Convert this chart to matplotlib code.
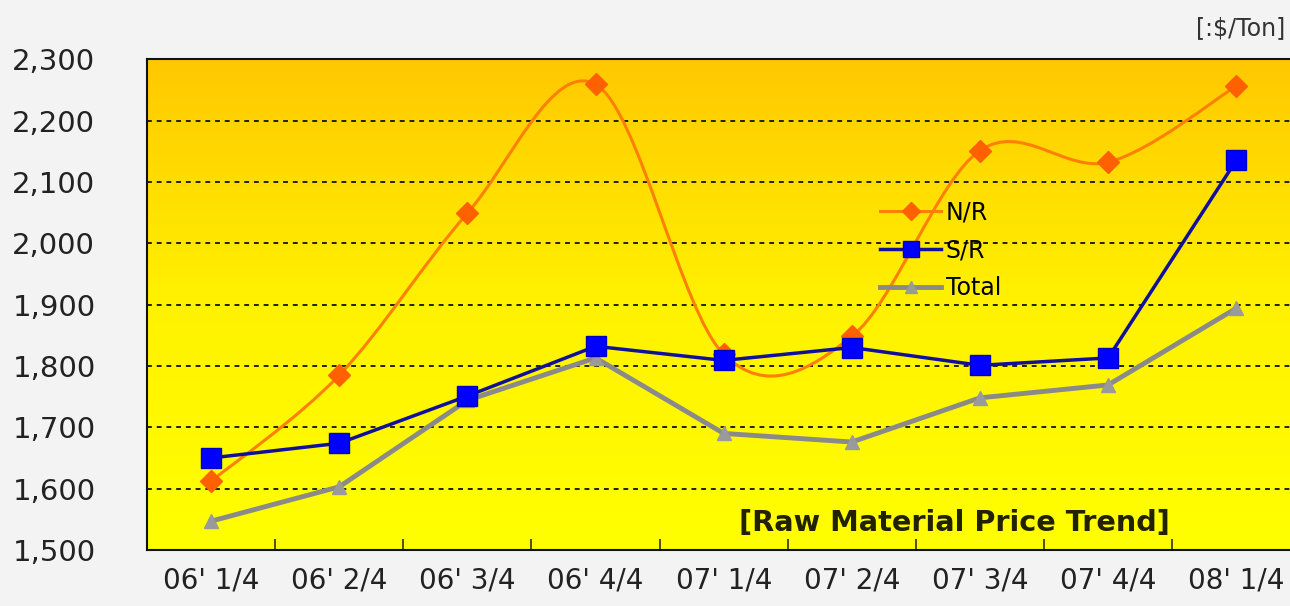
import matplotlib
matplotlib.use("Agg")
import matplotlib.pyplot as plt
import numpy as np
from matplotlib.path import Path
from matplotlib.patches import PathPatch
from matplotlib.lines import Line2D
from matplotlib.colors import LinearSegmentedColormap
from matplotlib.ticker import FuncFormatter, FixedLocator

# 数据
quarters = ["06' 1/4", "06' 2/4", "06' 3/4", "06' 4/4", "07' 1/4",
            "07' 2/4", "07' 3/4", "07' 4/4", "08' 1/4"]
nr_price = [1612, 1785, 2049, 2259, 1819, 1848, 2151, 2132, 2256]
sr_price = [1650, 1674, 1751, 1832, 1809, 1830, 1801, 1813, 2135]
total_price = [1547, 1603, 1744, 1813, 1690, 1676, 1748, 1769, 1894]
y_ticks = [1500, 1600, 1700, 1800, 1900, 2000, 2100, 2200, 2300]


def smooth_path(xs, ys):
    """Catmull-Rom 曲线转为 Bezier 路径 (类似 Excel 平滑线)"""
    pts = np.column_stack([xs, ys]).astype(float)
    n = len(pts)
    verts = [pts[0]]
    codes = [Path.MOVETO]
    for i in range(n - 1):
        p0 = pts[i - 1] if i > 0 else pts[i]
        p1 = pts[i]
        p2 = pts[i + 1]
        p3 = pts[i + 2] if i + 2 < n else pts[i + 1]
        c1 = p1 + (p2 - p0) / 6.0
        c2 = p2 - (p3 - p1) / 6.0
        verts += [c1, c2, p2]
        codes += [Path.CURVE4] * 3
    return Path(verts, codes)


fig = plt.figure(figsize=(12.9, 6.06), dpi=100)
fig.patch.set_facecolor('#f3f3f3')
ax = fig.add_axes([0.114, 0.0924, 0.894, 0.810])

x = np.arange(len(quarters))

# 背景渐变
cmap = LinearSegmentedColormap.from_list('bg', ['#ffff00', '#fff200', '#ffc800'])
grad = np.linspace(0, 1, 256).reshape(-1, 1)
ax.imshow(grad, extent=[-0.5, len(quarters) - 0.5, 1500, 2300], origin='lower',
          aspect='auto', cmap=cmap, zorder=0)

# 网格线
for v in y_ticks[1:-1]:
    ax.axhline(v, color='#222200', linestyle=(0, (2.5, 2.5)), linewidth=1.4, zorder=1)

# N/R 平滑线
ax.add_patch(PathPatch(smooth_path(x, nr_price), fill=False, edgecolor='#ff7f00',
                       linewidth=2.2, zorder=3))
ax.plot(x, nr_price, linestyle='none', marker='D', markersize=11,
        color='#ff6000', zorder=4)

ax.plot(x, total_price, color='#8a8a8a', linewidth=3.5, marker='^', markersize=10,
        markerfacecolor='#9a9a9a', markeredgecolor='#9a9a9a', zorder=2)
ax.plot(x, sr_price, color='#10109a', linewidth=2.5, marker='s', markersize=15,
        markerfacecolor='#0000ff', markeredgecolor='#0000c0', zorder=5)

ax.set_xlim(-0.5, len(quarters) - 0.5)
ax.set_ylim(1500, 2300)

ax.set_yticks(y_ticks)
ax.yaxis.set_major_formatter(FuncFormatter(lambda v, p: '{:,.0f}'.format(v)))
ax.tick_params(axis='y', length=0, labelsize=21, pad=97, labelcolor='#222222')
for lab in ax.get_yticklabels():
    lab.set_horizontalalignment('left')

ax.set_xticks(x)
ax.set_xticklabels(quarters, fontsize=20, color='#222222')
ax.tick_params(axis='x', length=0, pad=12)
ax.xaxis.set_minor_locator(FixedLocator(np.arange(0.5, len(quarters) - 0.5, 1)))
ax.tick_params(axis='x', which='minor', direction='in', length=8, width=1.2, color='#333300')

for s in ['left', 'bottom', 'top']:
    ax.spines[s].set_linewidth(1.5)
    ax.spines[s].set_color('#111111')
ax.spines['right'].set_visible(False)

handles = [
    Line2D([], [], color='#ff7f00', linewidth=2.2, marker='D', markersize=9,
           markerfacecolor='#ff6000', markeredgecolor='#ff6000'),
    Line2D([], [], color='#10109a', linewidth=2.5, marker='s', markersize=11,
           markerfacecolor='#0000ff', markeredgecolor='#0000c0'),
    Line2D([], [], color='#8a8a8a', linewidth=3.5, marker='^', markersize=8,
           markerfacecolor='#9a9a9a', markeredgecolor='#9a9a9a'),
]
ax.legend(handles, ['N/R', 'S/R', 'Total'], loc='upper left',
          bbox_to_anchor=(0.617, 0.755), frameon=False, fontsize=17,
          handlelength=2.6, handletextpad=0.2, labelspacing=0.58)

ax.text(0.513, 0.055, '[Raw Material Price Trend]', transform=ax.transAxes,
        fontsize=20.7, fontweight='bold', color='#222200', ha='left', va='center')
fig.text(0.996, 0.953, '[:$/Ton]', fontsize=17, ha='right', va='center', color='#333333')

fig.savefig('out.png', dpi=100, facecolor=fig.get_facecolor())
